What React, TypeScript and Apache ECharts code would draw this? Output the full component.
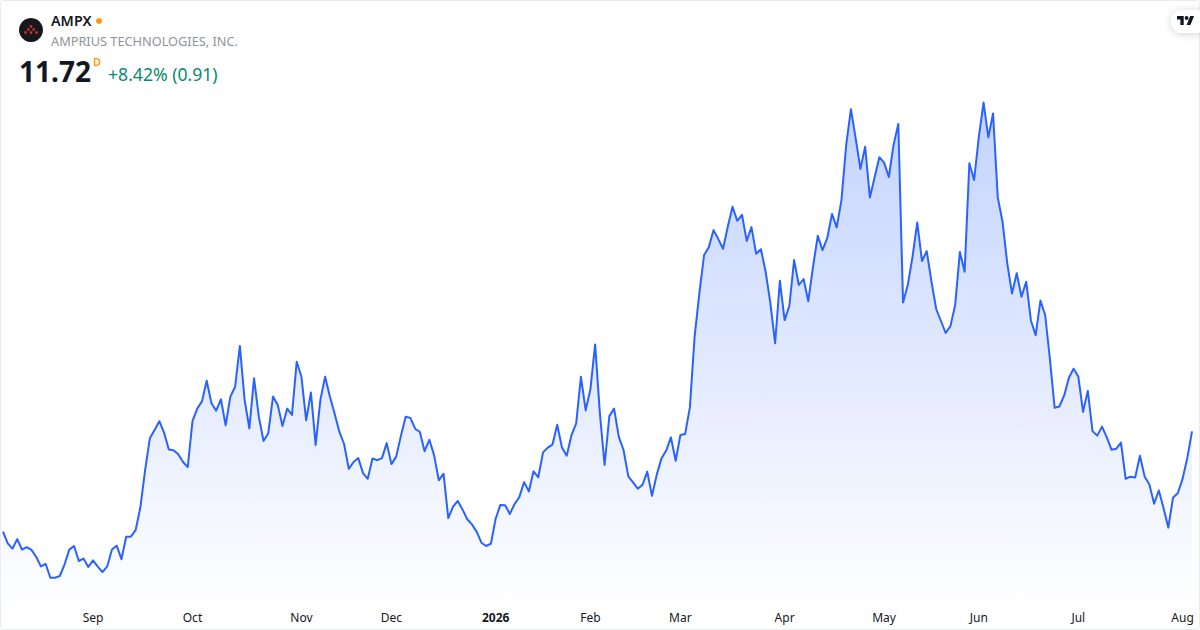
import React, { useEffect, useRef } from "react";
import * as echarts from "echarts";

const prices: number[] = [
  8.38, 7.99, 7.81, 8.13, 7.78, 7.86, 7.77, 7.54, 7.22, 7.30, 6.84, 6.84, 6.90, 7.29, 7.78, 7.90, 7.40, 7.48, 7.20, 7.42,
  7.21, 7.03, 7.22, 7.78, 7.91, 7.46, 8.21, 8.21, 8.43, 9.19, 10.43, 11.49, 11.77, 12.06, 11.68, 11.12, 11.09, 10.96, 10.70, 10.53,
  12.06, 12.48, 12.72, 13.41, 12.66, 12.41, 12.79, 11.92, 12.88, 13.21, 14.57, 12.77, 11.82, 13.49, 12.21, 11.40, 11.66, 12.88, 12.60, 11.90,
  12.48, 12.27, 14.04, 13.54, 12.09, 13.02, 11.27, 12.77, 13.54, 12.88, 12.32, 11.71, 11.30, 10.47, 10.70, 10.83, 10.33, 10.14, 10.82, 10.76,
  10.83, 11.33, 10.63, 10.88, 11.57, 12.21, 12.17, 11.81, 11.70, 11.06, 11.44, 10.93, 10.09, 10.31, 8.83, 9.21, 9.40, 9.12, 8.79, 8.62,
  8.37, 8.01, 7.90, 7.98, 8.81, 9.27, 9.26, 8.97, 9.30, 9.53, 10.03, 9.72, 10.39, 10.19, 11.02, 11.18, 11.28, 11.94, 11.18, 10.91,
  11.59, 11.99, 13.54, 12.42, 13.12, 14.62, 12.32, 10.60, 12.23, 12.48, 11.54, 11.10, 10.22, 10.02, 9.81, 9.94, 10.38, 9.57, 10.27, 10.82,
  11.08, 11.52, 10.74, 11.60, 11.63, 12.52, 14.88, 16.32, 17.60, 17.86, 18.43, 18.13, 17.81, 18.54, 19.21, 18.74, 18.94, 18.07, 18.53, 17.64,
  17.79, 17.04, 15.99, 14.66, 16.74, 15.43, 15.90, 17.43, 16.60, 16.80, 16.06, 17.21, 18.24, 17.76, 18.16, 18.97, 18.52, 19.43, 21.27, 22.46,
  21.49, 20.47, 21.21, 19.52, 20.19, 20.86, 20.68, 20.20, 21.27, 21.97, 16.02, 16.60, 17.54, 18.68, 17.40, 17.73, 16.71, 15.80, 15.40, 15.00,
  15.23, 15.93, 17.70, 17.04, 20.66, 20.10, 21.54, 22.68, 21.52, 22.32, 19.52, 18.71, 17.32, 16.32, 16.99, 16.21, 16.71, 15.41, 14.93, 16.08,
  15.60, 14.14, 12.51, 12.55, 12.91, 13.50, 13.81, 13.55, 12.37, 13.07, 11.73, 11.58, 11.88, 11.53, 11.11, 11.14, 11.35, 10.14, 10.21, 10.18,
  10.91, 10.22, 9.95, 9.31, 9.75, 9.16, 8.51, 9.52, 9.66, 10.13, 10.83, 11.72,
];

const tickLabels = ["Sep", "Oct", "Nov", "Dec", "2026", "Feb", "Mar", "Apr", "May", "Jun", "Jul", "Aug"];
const tickIndexes = [19, 40, 63, 82, 104, 124, 143, 165, 186, 206, 227, 249];
const categories = prices.map((_, i) => {
  const k = tickIndexes.indexOf(i);
  return k >= 0 ? tickLabels[k] : "";
});

const FONT = '"Noto Sans", "Open Sans", sans-serif';
const TV_D = "M14 22H7V11H0V4h14v18zM28 22h-8l7.5-18h8L28 22zM24 8a4 4 0 1 1-8 0 4 4 0 0 1 8 0z";
echarts.graphic.registerShape("tvlogo", echarts.graphic.extendPath(TV_D, {}) as any);

export default function App() {
  const ref = useRef<HTMLDivElement>(null);
  useEffect(() => {
    document.body.style.margin = "0";
    const chart = echarts.init(ref.current!, undefined, { renderer: "svg" });
    const dot = (x: number, y: number) => ({
      type: "rect", z: 12, shape: { x: x - 1.2, y: y - 1.2, width: 2.4, height: 2.4 }, style: { fill: "#d9342b" },
    });
    chart.setOption({
      animation: false,
      backgroundColor: "#ffffff",
      grid: { left: 2.5, right: 8, top: 0, bottom: 0, containLabel: false },
      xAxis: {
        type: "category",
        data: categories,
        boundaryGap: false,
        axisLine: { show: false },
        axisTick: { show: false },
        splitLine: { show: false },
        axisLabel: {
          show: true,
          inside: true,
          interval: 0,
          margin: 6,
          fontFamily: FONT,
          fontSize: 12,
          color: "#131722",
          verticalAlign: "bottom",
          lineHeight: 14,
          formatter: (v: string) => (v === "2026" ? `{b|${v}}` : v),
          rich: { b: { fontFamily: FONT, fontSize: 12, fontWeight: 700, color: "#131722" } },
        },
      },
      yAxis: { type: "value", min: 5.1, max: 26.1, show: false, splitLine: { show: false } },
      series: [
        {
          type: "line",
          data: prices,
          symbol: "none",
          smooth: false,
          lineStyle: { color: "#2962FF", width: 2, join: "round" },
          areaStyle: {
            origin: "start",
            opacity: 1,
            color: new echarts.graphic.LinearGradient(0, 0, 0, 1, [
              { offset: 0, color: "rgba(41,98,255,0.28)" },
              { offset: 0.95, color: "rgba(41,98,255,0.005)" },
              { offset: 1, color: "rgba(41,98,255,0)" },
            ]),
          },
        },
      ],
      graphic: [
        { type: "rect", z: 10, silent: true, shape: { x: 0.5, y: 0.5, width: 1199, height: 629, r: 3 }, style: { fill: "none", stroke: "#e9ecf2", lineWidth: 1 } },
        { type: "circle", z: 11, shape: { cx: 31, cy: 30, r: 12 }, style: { fill: "#16181d" } },
        { type: "group", z: 12, children: [dot(31, 26.5), dot(28.3, 29.5), dot(33.7, 29.5), dot(25.5, 32.5), dot(31, 32.5), dot(36.5, 32.5)] },
        { type: "text", z: 11, x: 51, y: 20.5, style: { text: "AMPX", font: `600 14.3px ${FONT}`, fill: "#131722", verticalAlign: "middle" } },
        { type: "circle", z: 11, shape: { cx: 99, cy: 21, r: 3 }, style: { fill: "#ff9800" } },
        { type: "text", z: 11, x: 51, y: 41, style: { text: "AMPRIUS TECHNOLOGIES, INC.", font: `400 12.75px ${FONT}`, fill: "#8f939c", verticalAlign: "middle" } },
        { type: "text", z: 11, x: 19, y: 71, style: { text: "11.72", font: `700 28px ${FONT}`, fill: "#131722", verticalAlign: "middle" } },
        { type: "text", z: 11, x: 93, y: 61, style: { text: "D", font: `600 11px ${FONT}`, fill: "#ff9800", verticalAlign: "middle" } },
        { type: "text", z: 11, x: 108, y: 74, style: { text: "+8.42% (0.91)", font: `400 17.6px ${FONT}`, fill: "#088a72", verticalAlign: "middle" } },
        { type: "rect", z: 11, shape: { x: 1171, y: 10, width: 36, height: 23, r: 11.5 }, style: { fill: "#ffffff", shadowBlur: 8, shadowColor: "rgba(0,0,0,0.18)", shadowOffsetY: 1 } },
        { type: "tvlogo", z: 12, x: 1177, y: 14, scaleX: 0.48, scaleY: 0.5, style: { fill: "#131722" } },
      ],
    });
    return () => chart.dispose();
  }, []);
  return <div ref={ref} style={{ position: "absolute", left: 0, top: 0, width: 1200, height: 630 }} />;
}
